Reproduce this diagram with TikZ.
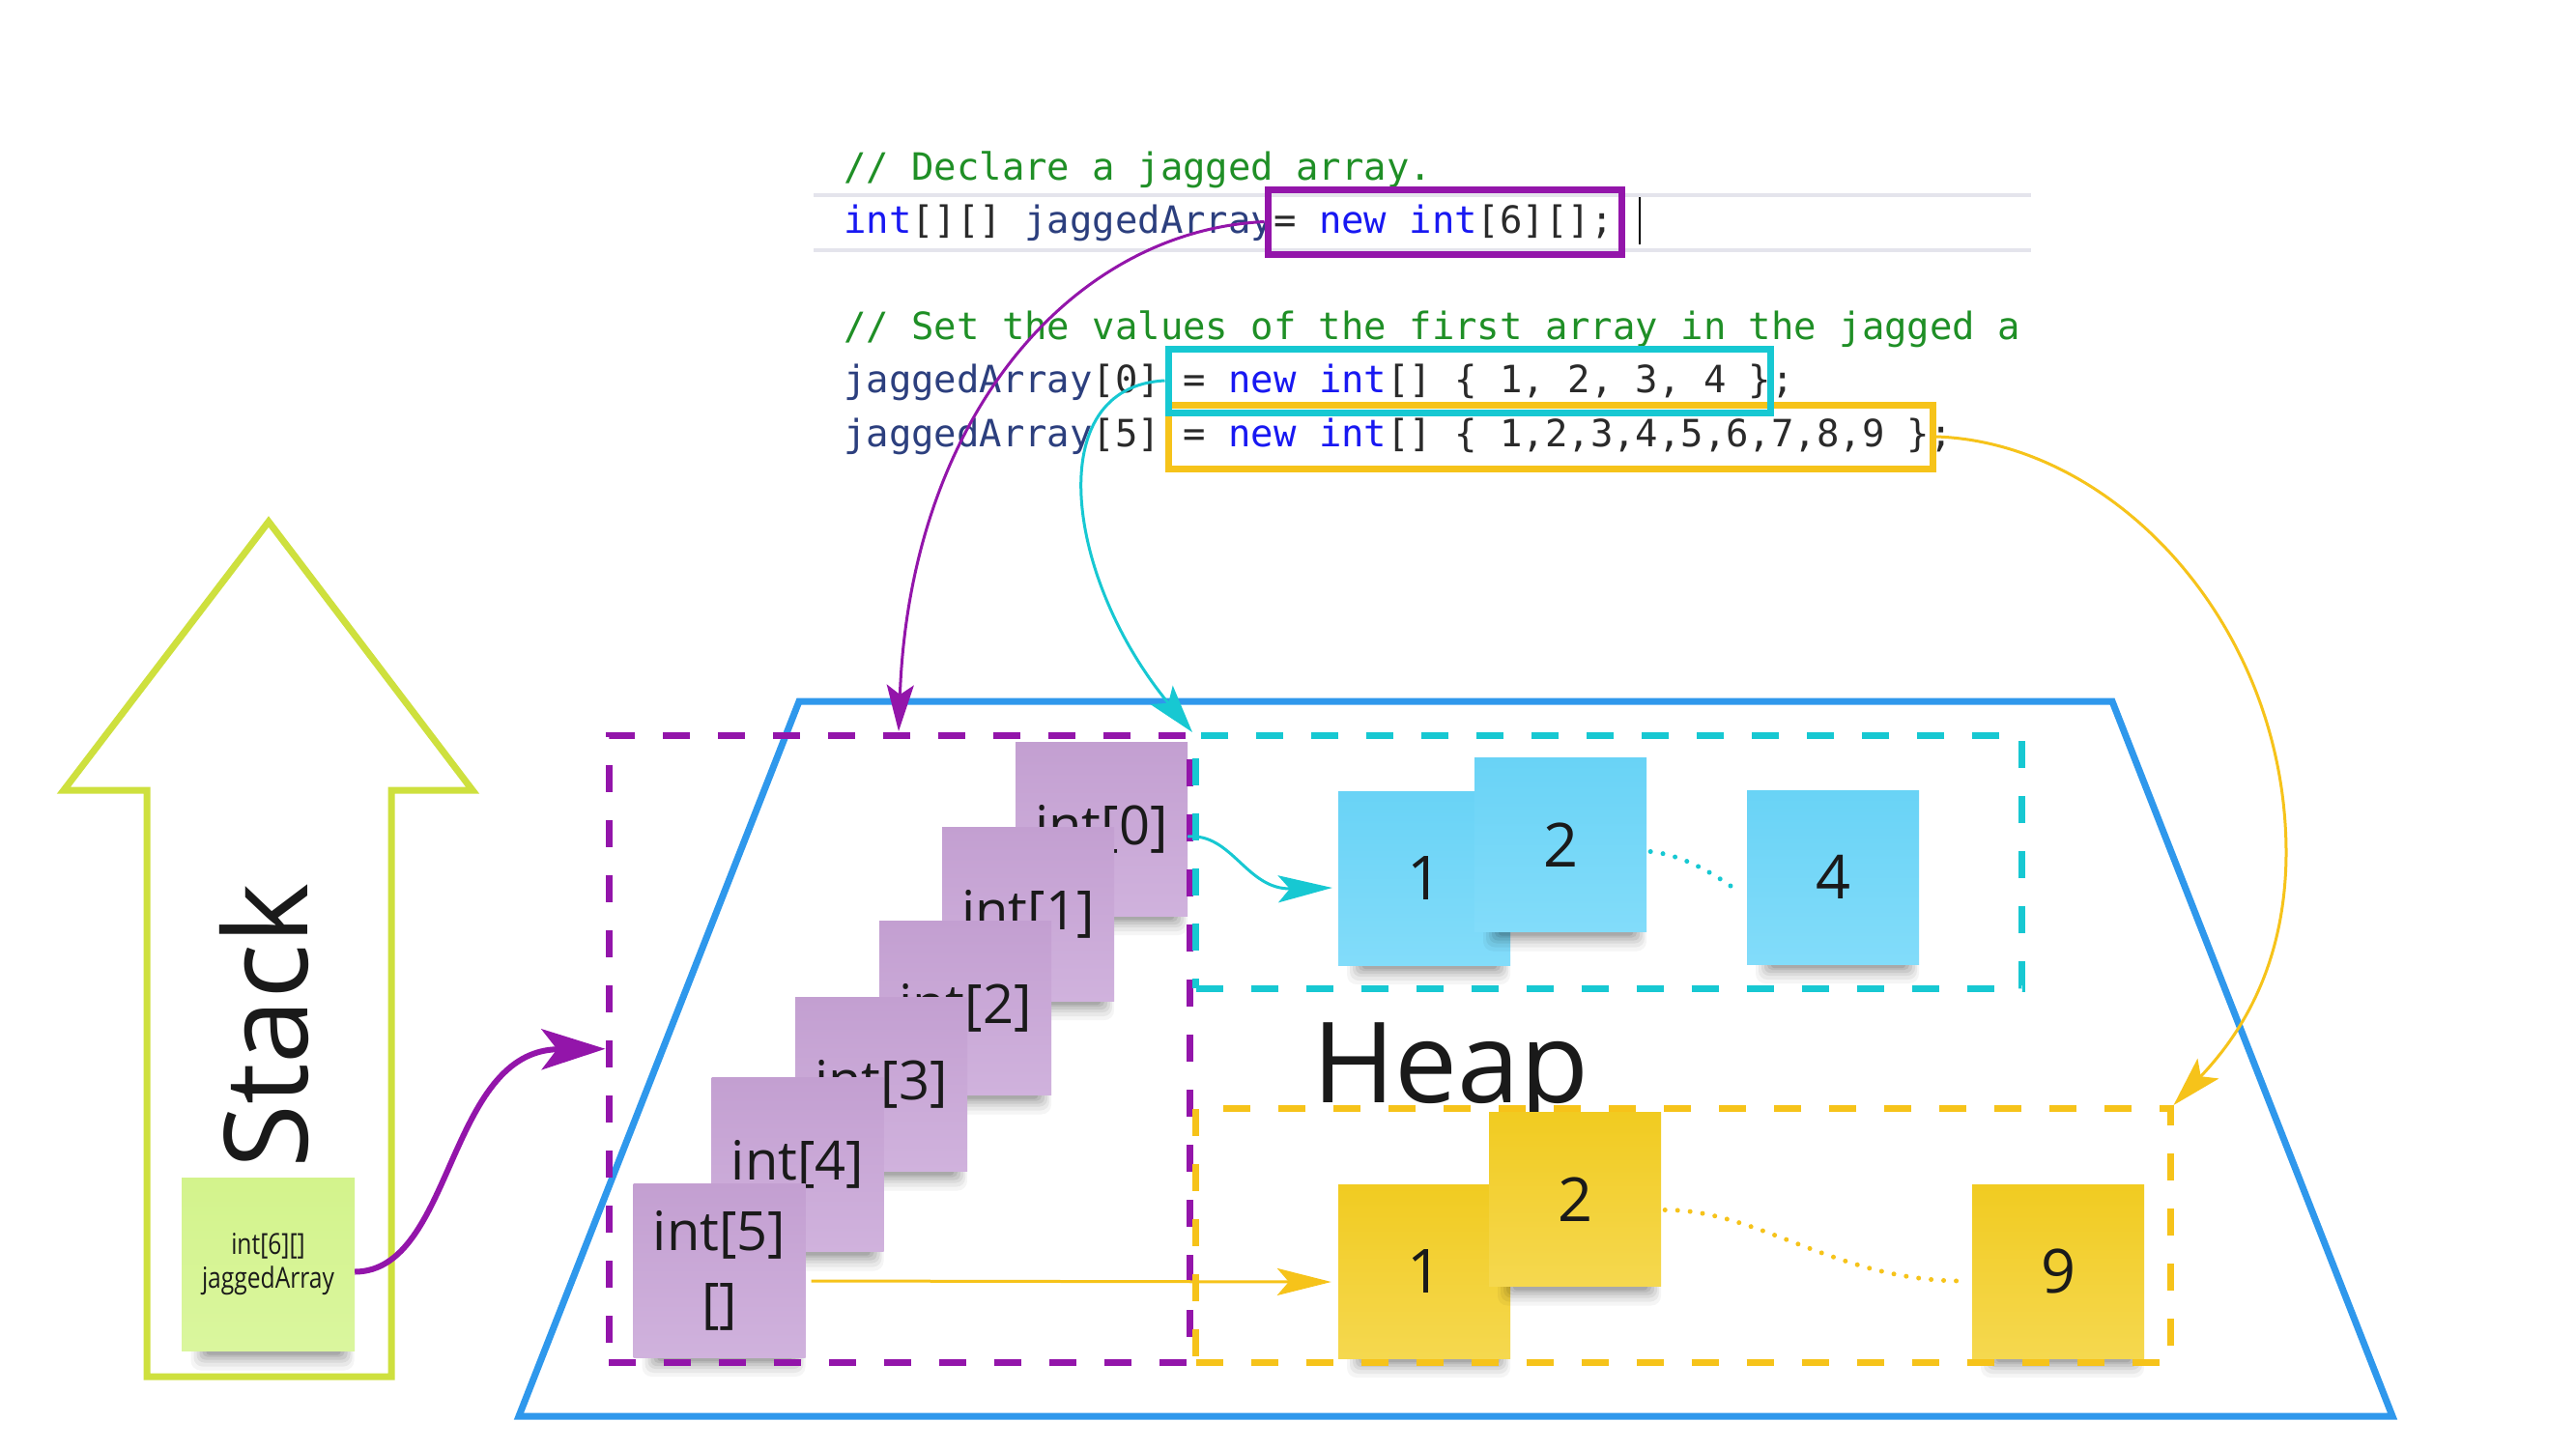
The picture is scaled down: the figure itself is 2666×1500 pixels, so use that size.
\documentclass[tikz,border=0pt]{standalone}
\usepackage{fontspec}
\usepackage{graphicx}
\usetikzlibrary{arrows.meta}
\newfontfamily\osans{Open Sans}
\newfontfamily\codefont{DejaVu Sans Mono}
\definecolor{purp}{HTML}{9315AA}
\definecolor{cyn}{HTML}{17C8D2}
\definecolor{ylw}{HTML}{F6C31A}
\definecolor{stackgreen}{HTML}{CEE03E}
\definecolor{heapblue}{HTML}{2F98EC}
\definecolor{pstA}{HTML}{C39FD1}
\definecolor{pstB}{HTML}{D0B2DD}
\definecolor{bstA}{HTML}{69D3F6}
\definecolor{bstB}{HTML}{82DCFA}
\definecolor{ystA}{HTML}{F1CB21}
\definecolor{ystB}{HTML}{F5D84F}
\definecolor{gstA}{HTML}{D3F38C}
\definecolor{gstB}{HTML}{DAF69E}
\definecolor{cgreen}{HTML}{1F8F26}
\definecolor{kw}{HTML}{1818F2}
\definecolor{idn}{HTML}{2C3F7E}
\definecolor{pun}{HTML}{2A2A2A}
\definecolor{txt}{HTML}{1A1A1A}
\definecolor{hilite}{HTML}{E4E4EC}
\newcommand\stkshadow[2]{%
  \fill[black,opacity=0.04,rounded corners=10pt] ({#1-80},{#2+70}) rectangle ({#1+89},{#2+110});
  \fill[black,opacity=0.05,rounded corners=9pt] ({#1-77},{#2+74}) rectangle ({#1+87},{#2+106});
  \fill[black,opacity=0.06,rounded corners=8pt] ({#1-74},{#2+78}) rectangle ({#1+85},{#2+102});
  \fill[black,opacity=0.07,rounded corners=6pt] ({#1-71},{#2+81}) rectangle ({#1+82},{#2+99});
  \fill[black,opacity=0.08,rounded corners=5pt] ({#1-68},{#2+84}) rectangle ({#1+79},{#2+96});
  \fill[black,opacity=0.09,rounded corners=3pt] ({#1-64},{#2+86}) rectangle ({#1+75},{#2+94});
}
\tikzset{
  stk/.style={minimum width=178pt, minimum height=180pt, inner sep=0pt, text=txt, align=center},
  pst/.style={stk, top color=pstA, bottom color=pstB, font=\osans\fontsize{56}{74}\selectfont},
  bst/.style={stk, top color=bstA, bottom color=bstB, font=\osans\fontsize{63}{70}\selectfont},
  yst/.style={stk, top color=ystA, bottom color=ystB, font=\osans\fontsize{63}{70}\selectfont},
  gst/.style={stk, minimum width=179pt, minimum height=179pt, top color=gstA, bottom color=gstB, font=\osans\fontsize{30}{35}\selectfont},
  code/.style={anchor=base west, inner sep=0pt, font=\codefont\fontsize{38.9}{40}\selectfont},
  codebox/.style={draw, line width=7pt, inner sep=0pt},
  dbox/.style={draw, line width=7pt, dash pattern=on 28pt off 29pt, inner sep=0pt},
  conn/.style={line width=3pt},
  dots/.style={line width=5pt, line cap=round, dash pattern=on 0pt off 13pt},
}
\begin{document}
\begin{tikzpicture}[x=1pt,y=-1pt]
\useasboundingbox (0,0) rectangle (2666,1500);
\fill[white] (0,0) rectangle (2666,1500);

% heap trapezoid
\draw[heapblue, line width=7pt, line join=miter] (827,726) -- (2186,726) -- (2476,1466) -- (537,1466) -- cycle;
\node[anchor=base west, inner sep=0pt, font=\osans\fontsize{116}{120}\selectfont, text=txt] (heap) at (1358,1141) {Heap};

% stack arrow
\draw[stackgreen, line width=7pt, line join=miter] (278,540) -- (489,818) -- (405,818) -- (405,1425) -- (152,1425) -- (152,818) -- (66,818) -- cycle;
\node[anchor=base west, inner sep=0pt, rotate=90, font=\osans\fontsize{120}{124}\selectfont, text=txt] (stack) at (318,1210) {Stack};

% green sticky
\stkshadow{277.5}{1308.5}
\node[gst] (green) at (277.5,1308.5) {\scalebox{0.82}[1]{int[6][]}\\\scalebox{0.82}[1]{jaggedArray}};

% purple stickies
\stkshadow{1140}{858}
\node[pst] (i0) at (1140,858) {int[0]};
\stkshadow{1064}{946}
\node[pst] (i1) at (1064,946) {int[1]};
\stkshadow{999}{1043.5}
\node[pst] (i2) at (999,1043.5) {int[2]};
\stkshadow{912}{1122.5}
\node[pst] (i3) at (912,1122.5) {int[3]};
\stkshadow{825.5}{1205.5}
\node[pst] (i4) at (825.5,1205.5) {int[4]};
\stkshadow{744.5}{1315}
\node[pst] (i5) at (744.5,1315) {int[5]\\{[]}};

% blue stickies
\stkshadow{1474}{909}
\node[bst] (b1) at (1474,909) {1};
\stkshadow{1615}{874.5}
\node[bst] (b2) at (1615,874.5) {2};
\stkshadow{1897}{908}
\node[bst] (b4) at (1897,908) {4};

% yellow stickies
\stkshadow{1474}{1316}
\node[yst] (y1) at (1474,1316) {1};
\stkshadow{1630}{1241.5}
\node[yst] (y2) at (1630,1241.5) {2};
\stkshadow{2130}{1316}
\node[yst] (y9) at (2130,1316) {9};

% dashed boxes
\node[dbox, draw=purp, minimum width=601pt, minimum height=648.5pt] (pdash) at (930.5,1085.75) {};
\node[dbox, draw=cyn, minimum width=855pt, minimum height=261.5pt] (cdash) at (1665,892.25) {};
\node[dbox, draw=ylw, minimum width=1008.5pt, minimum height=262.5pt] (ydash) at (1741.75,1278.75) {};

% code
\draw[hilite, line width=4pt] (842,201.5) -- (2102,201.5);
\draw[hilite, line width=4pt] (842,258.5) -- (2102,258.5);
\node[code] (c1) at (873,186) {\color{cgreen}// Declare a jagged array.};
\node[code] (c2) at (873,241) {\color{kw}int\color{pun}[][] \color{idn}jaggedArray\color{pun} = \color{kw}new int\color{pun}[6][];};
\node[code] (c3) at (873,351.5) {\color{cgreen}// Set the values of the first array in the jagged a};
\node[code] (c4) at (873,406.7) {\color{idn}jaggedArray\color{pun}[0] = \color{kw}new int\color{pun}[] \{ 1, 2, 3, 4 \};};
\node[code] (c5) at (873,462) {\color{idn}jaggedArray\color{pun}[5] = \color{kw}new int\color{pun}[] \{ 1,2,3,4,5,6,7,8,9 \};};
\draw[black, line width=2.5pt] (1697,204) -- (1697,253);

\node[codebox, draw=ylw, minimum width=791pt, minimum height=66pt] (ybox) at (1604.5,452) {};
\node[codebox, draw=cyn, minimum width=623pt, minimum height=66pt] (cbox) at (1520.5,394) {};
\node[codebox, draw=purp, minimum width=366pt, minimum height=67pt] (pbox) at (1495,229.5) {};

% connectors
\coordinate (pA) at (930,757);
\coordinate (yR) at (2366,885);
\draw[purp, conn, -{Stealth[length=48pt,width=28pt,inset=10pt]}] (pbox.west) .. controls (1111,239) and (942,430) .. (pA);
\draw[cyn, conn, -{Stealth[length=50pt,width=30pt,inset=11pt]}] (cbox.west) .. controls (1077,400) and (1102,598) .. (cdash.north west);
\draw[ylw, conn, -{Stealth[length=52pt,width=30pt,inset=11pt]}] (ybox.east) .. controls (2190,458) and (2367,650) .. (yR) .. controls (2365,1010) and (2310,1080) .. (ydash.north east);
\draw[purp, line width=6pt, -{Stealth[length=66pt,width=42pt,inset=16pt]}] ([yshift=-8pt]green.east) .. controls (470,1316) and (462,1087) .. (pdash.west);
\draw[cyn, conn, -{Stealth[length=56pt,width=28pt,inset=12pt]}] ([yshift=-8pt]i0.east) .. controls (1275,862) and (1290,921) .. ([xshift=-6pt,yshift=-10pt]b1.west);
\draw[ylw, conn, -{Stealth[length=56pt,width=28pt,inset=12pt]}] ([xshift=6pt,yshift=-11pt]i5.east) -- ([xshift=-7pt,yshift=-11pt]y1.west);
\draw[cyn, dots] ([xshift=4pt,yshift=-7pt]b2.east) .. controls (1740,885) and (1770,902) .. ([xshift=-14pt,yshift=-11pt]b4.west);
\draw[ylw, dots] ([xshift=4pt,yshift=-11pt]y2.east) .. controls (1820,1252) and (1900,1326) .. ([xshift=-10pt,yshift=-10pt]y9.west);
\end{tikzpicture}
\end{document}
